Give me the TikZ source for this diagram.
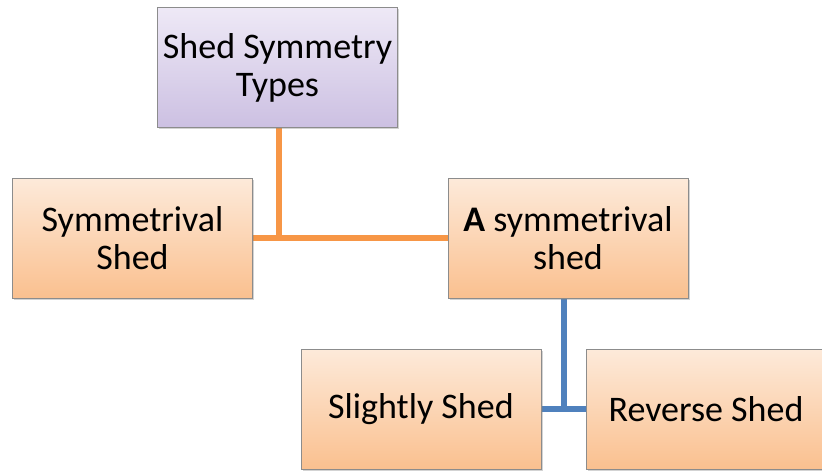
\documentclass[tikz,border=0pt]{standalone}
\usepackage{fontspec}
\setmainfont{Carlito}
\usepackage{tikz}
\usetikzlibrary{positioning, shadows, backgrounds}
\definecolor{boxline}{HTML}{8C8C8C}
\definecolor{orangetop}{HTML}{FDEADA}
\definecolor{orangebot}{HTML}{FAC08F}
\definecolor{purpletop}{HTML}{EEE9F6}
\definecolor{purplebot}{HTML}{CCC0E2}
\definecolor{orangelink}{HTML}{F79646}
\definecolor{bluelink}{HTML}{4F81BD}
\tikzstyle{block} = [rectangle, draw=boxline, thin, top color=orangetop, bottom color=orangebot, minimum width=240pt, minimum height=120pt, align=center, font=\fontsize{36}{38}\selectfont, drop shadow={shadow xshift=1.5pt, shadow yshift=-1.5pt, opacity=0.35}]
\tikzstyle{topblock} = [block, top color=purpletop, bottom color=purplebot]
\tikzstyle{orangeline} = [orangelink, line width=6pt]
\tikzstyle{blueline} = [bluelink, line width=6pt]

\begin{document}
\begin{tikzpicture}[x=1pt, y=-1pt]

\useasboundingbox (0,0) rectangle (822,471);
\clip (0,0) rectangle (822,471);

% Root box
\node (types) [topblock] at (277.5,67.5) {Shed Symmetry\\Types};

% Second level
\node (sym) [block] at (132.5,238) {Symmetrival\\Shed};
\node (asym) [block] at (568,238) {\textbf{A} symmetrival\\shed};

% Third level
\node (slight) [block] at (421,409) {Slightly Shed};
\node (rev) [block] at (706,409) {Reverse Shed};

\begin{scope}[on background layer]
% Orange connectors
\draw [orangeline] (sym) -- (asym);
\draw [orangeline] (types.south -| 279,0) -- (279,238);

% Blue connectors
\draw [blueline] (slight) -- (rev);
\draw [blueline] (asym.south -| 564,0) -- (564,409);
\end{scope}

\end{tikzpicture}
\end{document}
